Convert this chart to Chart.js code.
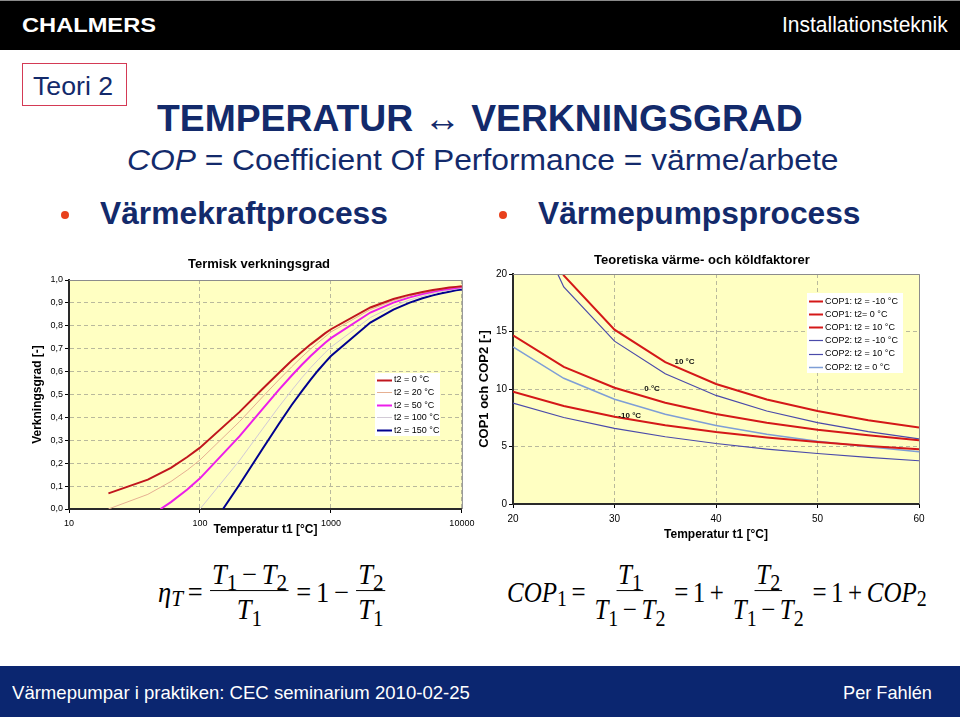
<!DOCTYPE html>
<html lang="sv">
<head>
<meta charset="utf-8">
<title>Temperatur ↔ Verkningsgrad</title>
<script src="https://cdn.jsdelivr.net/npm/chart.js@4.4.1/dist/chart.umd.min.js"></script>
<style>
html,body{margin:0;padding:0;background:#fff;}
body{position:relative;width:960px;height:717px;overflow:hidden;font-family:"Liberation Sans",Arial,Helvetica,sans-serif;}
.t{position:absolute;white-space:nowrap;line-height:1;transform-origin:0 50%;}
#hdr{position:absolute;left:0;top:0;width:960px;height:50px;background:#000;border-top:1px solid #8a8a8a;box-sizing:border-box;}
#ftr{position:absolute;left:0;top:666px;width:960px;height:51px;background:#0b2670;}
#teori{position:absolute;left:22px;top:63px;width:105px;height:43px;border:1.5px solid #d43a55;box-sizing:border-box;}
.navy{color:#132a6b;}
.dot{position:absolute;width:8px;height:8px;border-radius:50%;background:#e8401c;}
.cv{position:absolute;}
.eq{position:absolute;display:flex;align-items:center;font-family:"Liberation Serif","Times New Roman",serif;font-size:29px;line-height:1.05;white-space:nowrap;transform-origin:0 50%;color:#000;}
.eq i{font-style:italic;}
.frac{display:inline-flex;flex-direction:column;align-items:center;margin:0 3px;}
.num{border-bottom:1.5px solid #000;padding:0 2px 1px;}
.den{padding:3px 2px 0;}
.sb{font-size:0.8em;position:relative;top:0.28em;}
.op{margin:0 0.18em;}
</style>
</head>
<body>
<div id="hdr"></div>
<div class="t" id="chalmers" style="left:22px;top:14px;font-size:21px;font-weight:bold;color:#fff;">CHALMERS</div>
<div class="t" id="inst" style="left:782px;top:14px;font-size:22px;color:#fff;">Installationsteknik</div>
<div id="teori"></div>
<div class="t navy" id="teoriT" style="left:33px;top:73px;font-size:26px;">Teori 2</div>
<div class="t navy" id="title" style="left:157px;top:100px;font-size:37px;font-weight:bold;">TEMPERATUR ↔ VERKNINGSGRAD</div>
<div class="t navy" id="sub" style="left:127px;top:145px;font-size:30px;"><i>COP</i> = Coefficient Of Performance = värme/arbete</div>
<div class="dot" style="left:61px;top:211px;"></div>
<div class="t navy" id="b1" style="left:100px;top:197px;font-size:32px;font-weight:bold;">Värmekraftprocess</div>
<div class="dot" style="left:499px;top:211px;"></div>
<div class="t navy" id="b2" style="left:538px;top:197px;font-size:32px;font-weight:bold;">Värmepumpsprocess</div>

<canvas id="c1" class="cv" width="480" height="290" style="left:0;top:250px;"></canvas>
<canvas id="c2" class="cv" width="490" height="300" style="left:470px;top:245px;"></canvas>

<div class="eq" id="eq1" style="left:158px;top:592px;">
  <i>η</i><span class="sb"><i>T</i></span><span class="op">=</span>
  <span class="frac"><span class="num"><i>T</i><span class="sb">1</span><span class="op">−</span><i>T</i><span class="sb">2</span></span><span class="den"><i>T</i><span class="sb">1</span></span></span>
  <span class="op">=</span><span>1</span><span class="op">−</span>
  <span class="frac"><span class="num"><i>T</i><span class="sb">2</span></span><span class="den"><i>T</i><span class="sb">1</span></span></span>
</div>
<div class="eq" id="eq2" style="left:507px;top:592px;">
  <i>COP</i><span class="sb">1</span><span class="op">=</span>
  <span class="frac"><span class="num"><i>T</i><span class="sb">1</span></span><span class="den"><i>T</i><span class="sb">1</span><span class="op">−</span><i>T</i><span class="sb">2</span></span></span>
  <span class="op">=</span><span>1</span><span class="op">+</span>
  <span class="frac"><span class="num"><i>T</i><span class="sb">2</span></span><span class="den"><i>T</i><span class="sb">1</span><span class="op">−</span><i>T</i><span class="sb">2</span></span></span>
  <span class="op">=</span><span>1</span><span class="op">+</span><i>COP</i><span class="sb">2</span>
</div>

<div id="ftr"></div>
<div class="t" id="foot1" style="left:12px;top:683px;font-size:19px;color:#fff;">Värmepumpar i praktiken: CEC seminarium 2010-02-25</div>
<div class="t" id="foot2" style="left:843px;top:683px;font-size:19px;color:#fff;">Per Fahlén</div>

<script>
// ================= DATA =================
// Left chart: Termisk verkningsgrad (log x axis)
const EFF_TITLE = 'Termisk verkningsgrad';
const EFF_X_TITLE = 'Temperatur t1 [°C]';
const EFF_Y_TITLE = 'Verkningsgrad [-]';
const EFF_X_TICKS = [10, 100, 1000, 10000];
const EFF_LABELS = ['t2 = 0 °C', 't2 = 20 °C', 't2 = 50 °C', 't2 = 100 °C', 't2 = 150 °C'];

const t1_eff_0   = [20, 40, 60, 80, 100, 200, 300, 400, 500, 600, 700, 800, 900, 1000, 2000, 3000, 4000, 5000, 6000, 7000, 8000, 9000, 10000];
const eta_t2_0   = [0.068, 0.128, 0.180, 0.227, 0.268, 0.423, 0.524, 0.594, 0.647, 0.687, 0.719, 0.744, 0.767, 0.785, 0.880, 0.917, 0.936, 0.948, 0.956, 0.962, 0.967, 0.970, 0.973];
const t1_eff_20  = [20, 40, 60, 80, 100, 200, 300, 400, 500, 600, 700, 800, 900, 1000, 2000, 3000, 4000, 5000, 6000, 7000, 8000, 9000, 10000];
const eta_t2_20  = [0.000, 0.064, 0.120, 0.170, 0.214, 0.381, 0.489, 0.564, 0.620, 0.664, 0.699, 0.727, 0.751, 0.773, 0.871, 0.910, 0.931, 0.944, 0.953, 0.960, 0.965, 0.968, 0.971];
const t1_eff_50  = [50, 60, 80, 100, 200, 300, 400, 500, 600, 700, 800, 900, 1000, 2000, 3000, 4000, 5000, 6000, 7000, 8000, 9000, 10000];
const eta_t2_50  = [0.000, 0.030, 0.085, 0.134, 0.317, 0.436, 0.520, 0.582, 0.630, 0.668, 0.699, 0.725, 0.746, 0.858, 0.901, 0.924, 0.939, 0.949, 0.956, 0.961, 0.965, 0.969];
const t1_eff_100 = [100, 200, 300, 400, 500, 600, 700, 800, 900, 1000, 2000, 3000, 4000, 5000, 6000, 7000, 8000, 9000, 10000];
const eta_t2_100 = [0.000, 0.211, 0.349, 0.446, 0.517, 0.573, 0.617, 0.652, 0.682, 0.707, 0.836, 0.886, 0.913, 0.929, 0.941, 0.949, 0.955, 0.960, 0.964];
const t1_eff_150 = [150, 200, 300, 400, 500, 600, 700, 800, 900, 1000, 2000, 3000, 4000, 5000, 6000, 7000, 8000, 9000, 10000];
const eta_t2_150 = [0.000, 0.106, 0.262, 0.371, 0.453, 0.515, 0.565, 0.606, 0.639, 0.668, 0.814, 0.871, 0.901, 0.920, 0.933, 0.942, 0.949, 0.955, 0.959];

// Right chart: Teoretiska värme- och köldfaktorer
const COP_TITLE = 'Teoretiska värme- och köldfaktorer';
const COP_X_TITLE = 'Temperatur t1 [°C]';
const COP_Y_TITLE = 'COP1 och COP2 [-]';
const COP_LABELS = ['COP1: t2 = -10 °C', 'COP1: t2= 0 °C', 'COP1: t2 = 10 °C', 'COP2: t2 = -10 °C', 'COP2: t2 = 10 °C', 'COP2: t2 = 0 °C'];
const t1_cop = [20, 25, 30, 35, 40, 45, 50, 55, 60];
const cop1_t2_m10 = [9.77, 8.52, 7.58, 6.85, 6.26, 5.78, 5.39, 5.05, 4.76];
const cop1_t2_0   = [14.66, 11.93, 10.11, 8.80, 7.83, 7.07, 6.46, 5.97, 5.55];
const cop1_t2_10  = [29.32, 19.88, 15.16, 12.33, 10.44, 9.09, 8.08, 7.29, 6.66];
const cop2_t2_m10 = [8.77, 7.52, 6.58, 5.85, 5.26, 4.78, 4.39, 4.05, 3.76];
const cop2_t2_10  = [28.32, 18.88, 14.16, 11.33, 9.44, 8.09, 7.08, 6.29, 5.66];
const cop2_t2_0   = [13.66, 10.93, 9.11, 7.80, 6.83, 6.07, 5.46, 4.97, 4.55];
// in-plot curve labels (data coordinates)
const COP_NOTE_TEXT = ['10 °C', '0 °C', '-10 °C'];
const COP_NOTE_X    = [36.9, 33.7, 31.5];
const COP_NOTE_Y    = [12.35, 10.0, 7.65];

// ================= STYLE =================
const FONT = '"Liberation Sans", Arial, Helvetica, sans-serif';
const PLOT_BG = '#ffffc2';
const GRID = '#b9b99c';
Chart.defaults.font.family = FONT;
Chart.defaults.color = '#000';

const EFF_STYLE = [
  {c: '#c0161e', w: 2},
  {c: '#e6b092', w: 1},
  {c: '#ec1eea', w: 2},
  {c: '#d2cad6', w: 1},
  {c: '#00008e', w: 2}
];
const COP_STYLE = [
  {c: '#d41818', w: 2},
  {c: '#d41818', w: 2},
  {c: '#d41818', w: 2},
  {c: '#4a4aaa', w: 1.2},
  {c: '#4a4aaa', w: 1.2},
  {c: '#7e9ed6', w: 1.5}
];

function pts(xs, ys) { return xs.map((x, i) => ({x: x, y: ys[i]})); }

function makeFrame(leg, notes, titleCx) {
  return {
    id: 'plotFrame',
    afterLayout(chart) {
      const tb = chart.titleBlock;
      if (tb) {
        const w = tb.right - tb.left;
        tb.left = titleCx - w / 2;
        tb.right = titleCx + w / 2;
      }
    },
    beforeDraw(chart) {
      const a = chart.chartArea, c = chart.ctx;
      c.save();
      c.fillStyle = PLOT_BG;
      c.fillRect(a.left, a.top, a.right - a.left, a.bottom - a.top);
      c.restore();
    },
    afterDatasetsDraw(chart) {
      if (!notes) return;
      const c = chart.ctx, sx = chart.scales.x, sy = chart.scales.y;
      c.save();
      c.font = 'bold 8px ' + FONT;
      c.fillStyle = '#111';
      c.textAlign = 'center';
      c.textBaseline = 'middle';
      notes.text.forEach((t, i) => c.fillText(t, sx.getPixelForValue(notes.x[i]), sy.getPixelForValue(notes.y[i])));
      c.restore();
    },
    afterDraw(chart) {
      const a = chart.chartArea, c = chart.ctx;
      c.save();
      c.strokeStyle = '#8c8c8c';
      c.lineWidth = 1;
      c.beginPath();
      c.moveTo(a.left, a.top + 0.5); c.lineTo(a.right + 0.5, a.top + 0.5); c.lineTo(a.right + 0.5, a.bottom);
      c.stroke();
      // legend box
      c.fillStyle = '#fff';
      c.fillRect(leg.bx, leg.by, leg.bw, leg.bh);
      c.font = leg.fs + 'px ' + FONT;
      c.textAlign = 'left';
      c.textBaseline = 'middle';
      chart.data.datasets.forEach((ds, i) => {
        const y = leg.y0 + i * leg.dy;
        c.strokeStyle = ds.borderColor;
        c.lineWidth = ds.borderWidth;
        c.beginPath(); c.moveTo(leg.x1, Math.round(y) + 0.5); c.lineTo(leg.x2, Math.round(y) + 0.5); c.stroke();
        c.fillStyle = '#000';
        c.fillText(ds.label, leg.tx, y + 0.5);
      });
      c.restore();
    }
  };
}

const grid = () => ({color: GRID, lineWidth: 1, tickColor: '#000', tickLength: 4, tickWidth: 1});
const border = () => ({display: true, color: '#2a2a2a', width: 2, dash: [4, 3]});

// ---------- left chart ----------
const effX = [t1_eff_0, t1_eff_20, t1_eff_50, t1_eff_100, t1_eff_150];
const effY = [eta_t2_0, eta_t2_20, eta_t2_50, eta_t2_100, eta_t2_150];
new Chart(document.getElementById('c1'), {
  type: 'line',
  data: {
    datasets: EFF_LABELS.map((lab, i) => ({
      label: lab, data: pts(effX[i], effY[i]),
      borderColor: EFF_STYLE[i].c, borderWidth: EFF_STYLE[i].w,
      pointRadius: 0, tension: 0, fill: false
    }))
  },
  options: {
    responsive: false, animation: false, devicePixelRatio: 1, events: [],
    layout: {padding: {left: 0, right: 16, top: 0, bottom: 0}},
    plugins: {
      legend: {display: false}, tooltip: {enabled: false},
      title: {display: true, text: EFF_TITLE, color: '#000', font: {size: 13, weight: 'bold'}, padding: {top: 6.2, bottom: 8.2}}
    },
    scales: {
      x: {
        type: 'logarithmic', min: 10, max: 10000,
        afterBuildTicks(s) { s.ticks = EFF_X_TICKS.map(v => ({value: v})); },
        afterFit(s) { s.height = 31; },
        ticks: {font: {size: 9}, color: '#000', padding: 5.6, maxRotation: 0, autoSkip: false, callback: v => String(v)},
        grid: grid(), border: border(),
        title: {display: true, text: EFF_X_TITLE, color: '#000', font: {size: 12, weight: 'bold'}, padding: {top: 0, bottom: 2.8}}
      },
      y: {
        min: 0, max: 1,
        afterFit(s) { s.width = 69; },
        ticks: {stepSize: 0.1, font: {size: 9}, color: '#000', padding: 2, callback: v => Number(v).toFixed(1).replace('.', ',')},
        grid: grid(), border: border(),
        title: {display: true, text: EFF_Y_TITLE, color: '#000', font: {size: 12, weight: 'bold'}, padding: {top: 30.8, bottom: 0}}
      }
    }
  },
  plugins: [makeFrame({bx: 375, by: 123, bw: 65, bh: 63, x1: 377, x2: 392, tx: 394, y0: 129.5, dy: 12.6, fs: 9}, null, 259)]
});

// ---------- right chart ----------
const copY = [cop1_t2_m10, cop1_t2_0, cop1_t2_10, cop2_t2_m10, cop2_t2_10, cop2_t2_0];
new Chart(document.getElementById('c2'), {
  type: 'line',
  data: {
    datasets: COP_LABELS.map((lab, i) => ({
      label: lab, data: pts(t1_cop, copY[i]),
      borderColor: COP_STYLE[i].c, borderWidth: COP_STYLE[i].w,
      pointRadius: 0, tension: 0, fill: false
    }))
  },
  options: {
    responsive: false, animation: false, devicePixelRatio: 1, events: [],
    layout: {padding: {left: 0, right: 41, top: 0, bottom: 0}},
    plugins: {
      legend: {display: false}, tooltip: {enabled: false},
      title: {display: true, text: COP_TITLE, color: '#000', font: {size: 13, weight: 'bold'}, padding: {top: 7.2, bottom: 6.2}}
    },
    scales: {
      x: {
        type: 'linear', min: 20, max: 60,
        afterFit(s) { s.height = 41; },
        ticks: {stepSize: 10, font: {size: 10}, color: '#000', padding: 5, maxRotation: 0},
        grid: grid(), border: border(),
        title: {display: true, text: COP_X_TITLE, color: '#000', font: {size: 12, weight: 'bold'}, padding: {top: 0, bottom: 2.8}}
      },
      y: {
        min: 0, max: 20,
        afterFit(s) { s.width = 43; },
        ticks: {stepSize: 5, font: {size: 10}, color: '#000', padding: 2},
        grid: grid(), border: border(),
        title: {display: true, text: COP_Y_TITLE, color: '#000', font: {size: 13, weight: 'bold'}, padding: {top: 6.2, bottom: 0}}
      }
    }
  },
  plugins: [makeFrame({bx: 337, by: 48, bw: 96, bh: 80, x1: 339, x2: 353, tx: 355, y0: 55.7, dy: 13.2, fs: 9},
                      {text: COP_NOTE_TEXT, x: COP_NOTE_X, y: COP_NOTE_Y}, 232)]
});

// ---------- fit slide texts to their widths ----------
function fit(id, w, extra) {
  const el = document.getElementById(id);
  const k = w / el.offsetWidth;
  el.style.transform = (extra || '') + 'scaleX(' + k + ')';
}
function fitAll() {
  fit('chalmers', 134); fit('inst', 166); fit('teoriT', 80);
  fit('title', 646); fit('sub', 711); fit('b1', 288); fit('b2', 322);
  fit('foot1', 458); fit('foot2', 89);
  fit('eq1', 230, 'translateY(-50%) '); fit('eq2', 420, 'translateY(-50%) ');
}
fitAll();
if (document.fonts && document.fonts.ready) document.fonts.ready.then(fitAll);
</script>
</body>
</html>
